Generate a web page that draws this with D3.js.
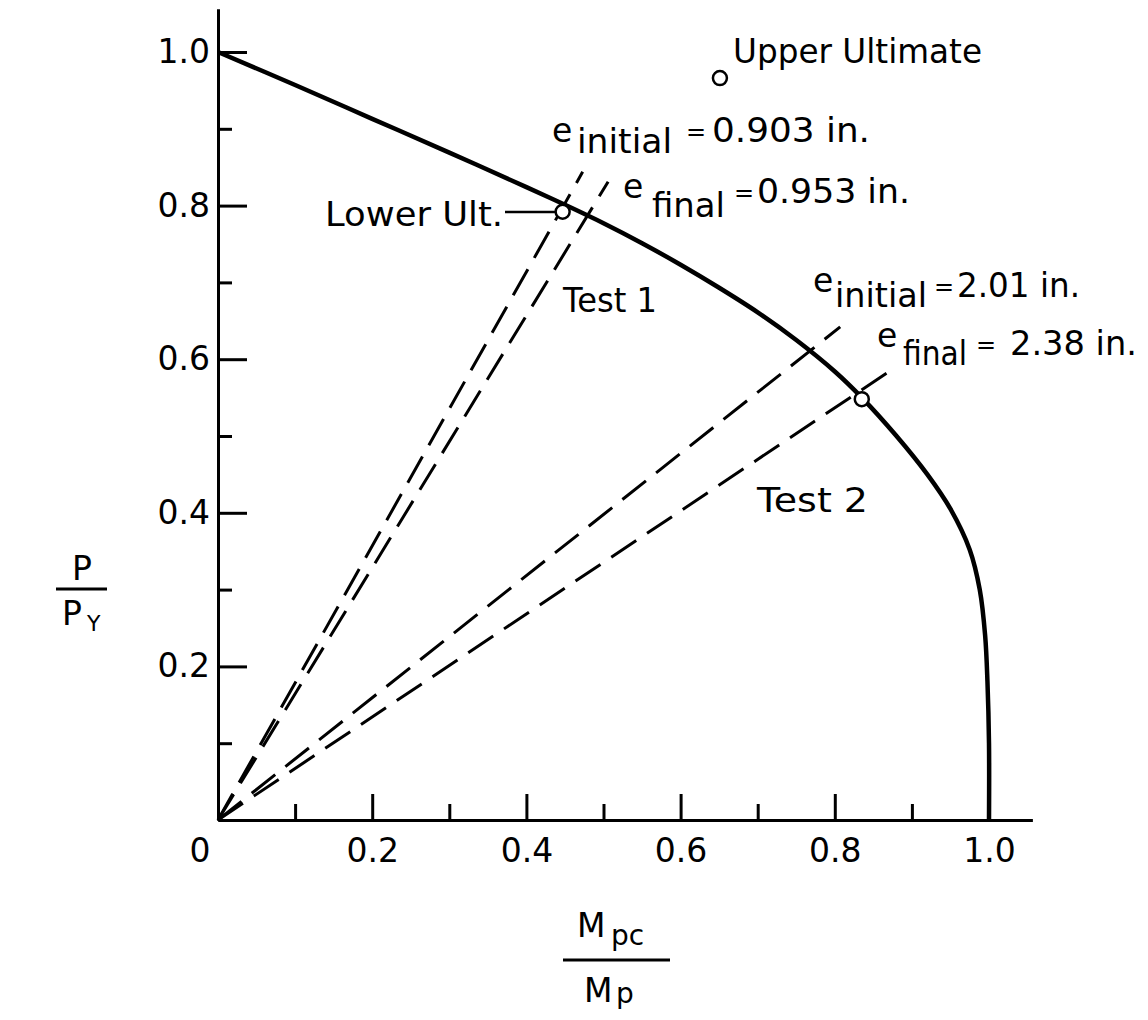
<!DOCTYPE html>
<html>
<head>
<meta charset="utf-8">
<script src="https://cdn.jsdelivr.net/npm/d3@7"></script>
<style>
  html, body { margin: 0; padding: 0; background: #fff; }
  svg { display: block; }
  text { font-family: "DejaVu Sans", "Liberation Sans", sans-serif; fill: #000; }
</style>
</head>
<body>
<svg id="chart" width="1148" height="1020"></svg>
<script>
// ---------------- data ----------------
// interaction curve: M_pc/M_p (x) vs P/P_Y (y)
const curveX = [0, 0.1, 0.2, 0.3, 0.4, 0.45, 0.5, 0.55, 0.6, 0.65, 0.7, 0.75, 0.8, 0.835, 0.88, 0.92, 0.95, 0.975, 0.988, 0.995, 0.998, 1.0, 1.0];
const curveY = [1.0, 0.957, 0.913, 0.869, 0.824, 0.801, 0.777, 0.751, 0.723, 0.693, 0.661, 0.625, 0.584, 0.550, 0.500, 0.450, 0.405, 0.352, 0.300, 0.240, 0.180, 0.10, 0];

// dashed loading paths from origin (end points)
const pathNames = ["Test 1 initial", "Test 1 final", "Test 2 initial", "Test 2 final"];
const pathEndX = [0.473, 0.506, 0.807, 0.881];
const pathEndY = [0.844, 0.831, 0.642, 0.591];

// marked points (open circles)
const pointNames = ["Upper Ultimate", "Lower Ult.", "Test 2 ultimate"];
const pointX = [0.651, 0.447, 0.835];
const pointY = [0.966, 0.792, 0.548];

// axis ticks
const xMajorTicks = [0, 0.2, 0.4, 0.6, 0.8, 1.0];
const xMajorLabels = ["0", "0.2", "0.4", "0.6", "0.8", "1.0"];
const xMinorTicks = [0.1, 0.3, 0.5, 0.7, 0.9];
const yMajorTicks = [0.2, 0.4, 0.6, 0.8, 1.0];
const yMajorLabels = ["0.2", "0.4", "0.6", "0.8", "1.0"];
const yMinorTicks = [0.1, 0.3, 0.5, 0.7, 0.9];

// ---------------- drawing ----------------
const svg = d3.select("#chart");
const axisMax = 1.056;
const x = d3.scaleLinear().domain([0, axisMax]).range([218, 218 + 771 * axisMax]);
const y = d3.scaleLinear().domain([0, axisMax]).range([820, 820 - 768 * axisMax]);

const FS = 33;

// x axis
const gx = svg.append("g").attr("transform", `translate(0,${y(0)})`);
gx.append("g").call(d3.axisBottom(x).tickValues(xMinorTicks).tickSize(-16).tickSizeOuter(0).tickFormat(""));
gx.append("g").call(d3.axisBottom(x).tickValues(xMajorTicks).tickSize(-26).tickSizeOuter(0).tickPadding(19)
  .tickFormat((d, i) => xMajorLabels[i]));
// y axis
const gy = svg.append("g").attr("transform", `translate(${x(0)},0)`);
gy.append("g").call(d3.axisLeft(y).tickValues(yMinorTicks).tickSize(-14).tickSizeOuter(0).tickFormat(""));
gy.append("g").call(d3.axisLeft(y).tickValues(yMajorTicks).tickSize(-29).tickSizeOuter(0).tickPadding(8)
  .tickFormat((d, i) => yMajorLabels[i]));

svg.selectAll(".domain").attr("stroke", "#000").attr("stroke-width", 3);
svg.selectAll(".tick line").attr("stroke", "#000").attr("stroke-width", 3);
svg.selectAll(".tick text").attr("font-size", FS).attr("font-family", "DejaVu Sans, sans-serif").attr("fill", "#000");
// "0" label sits left of the origin
gx.selectAll(".tick").filter(d => d === 0).select("text").attr("x", 199.5 - x(0));

// dashed lines
svg.append("g").selectAll("line").data(pathNames).join("line")
  .attr("x1", x(0)).attr("y1", y(0))
  .attr("x2", (d, i) => x(pathEndX[i])).attr("y2", (d, i) => y(pathEndY[i]))
  .attr("stroke", "#000").attr("stroke-width", 3).attr("stroke-dasharray", "30,13");

// interaction curve
const pts = curveX.map((v, i) => [v, curveY[i]]);
svg.append("path").datum(pts)
  .attr("d", d3.line().x(d => x(d[0])).y(d => y(d[1])).curve(d3.curveCatmullRom.alpha(0.5)))
  .attr("fill", "none").attr("stroke", "#000").attr("stroke-width", 4.5).attr("stroke-linejoin", "round");

// leader line for Lower Ult.
svg.append("line").attr("x1", 505).attr("y1", 212).attr("x2", x(pointX[1]) - 7).attr("y2", 212)
  .attr("stroke", "#000").attr("stroke-width", 2.5);

// circles
svg.append("g").selectAll("circle").data(pointNames).join("circle")
  .attr("cx", (d, i) => x(pointX[i])).attr("cy", (d, i) => y(pointY[i])).attr("r", 7)
  .attr("fill", "#fff").attr("stroke", "#000").attr("stroke-width", 2.5);

// text annotations
function txt(t, px, py, size, opts = {}) {
  const el = svg.append("text").attr("x", px).attr("y", py).attr("font-size", size).text(t);
  if (opts.anchor) el.attr("text-anchor", opts.anchor);
  if (opts.len) el.attr("textLength", opts.len).attr("lengthAdjust", "spacingAndGlyphs");
  return el;
}
txt("Upper Ultimate", 733, 63, FS, { len: 249 });
txt("Lower Ult.", 325, 226, FS, { len: 178 });
txt("Test 1", 563, 312, FS, { len: 94 });
txt("Test 2", 757, 512, FS, { len: 111 });

// e labels
function eLabel(ex, ey, sub, subX, subY, subLen, eqX, eqY, val, valX, valY, valLen) {
  txt("e", ex, ey, FS);
  txt(sub, subX, subY, FS, { len: subLen });
  txt("=", eqX, eqY, 24);
  txt(val, valX, valY, FS, { len: valLen });
}
eLabel(552, 142, "initial", 577, 153, 95, 686, 140, "0.903 in.", 712, 142, 158);
eLabel(623, 198, "final", 652, 217, 73, 734, 201, "0.953 in.", 757, 203, 153);
eLabel(813, 292, "initial", 835, 307, 92, 934, 295, "2.01 in.", 957, 297, 123);
eLabel(877, 347, "final", 903, 365, 64, 976, 353, "2.38 in.", 1010, 355, 127);

// y axis title  P / P_Y
txt("P", 82, 580, FS, { anchor: "middle" });
svg.append("line").attr("x1", 56).attr("x2", 107).attr("y1", 589).attr("y2", 589).attr("stroke", "#000").attr("stroke-width", 3);
txt("P", 62, 625, FS);
txt("Y", 87, 631, 22);

// x axis title  M_pc / M_p
txt("M", 577, 937, FS);
txt("pc", 611, 945, 28);
svg.append("line").attr("x1", 563).attr("x2", 670).attr("y1", 960).attr("y2", 960).attr("stroke", "#000").attr("stroke-width", 3);
txt("M", 584, 1002, FS);
txt("p", 616, 1003, 28);
</script>
</body>
</html>
